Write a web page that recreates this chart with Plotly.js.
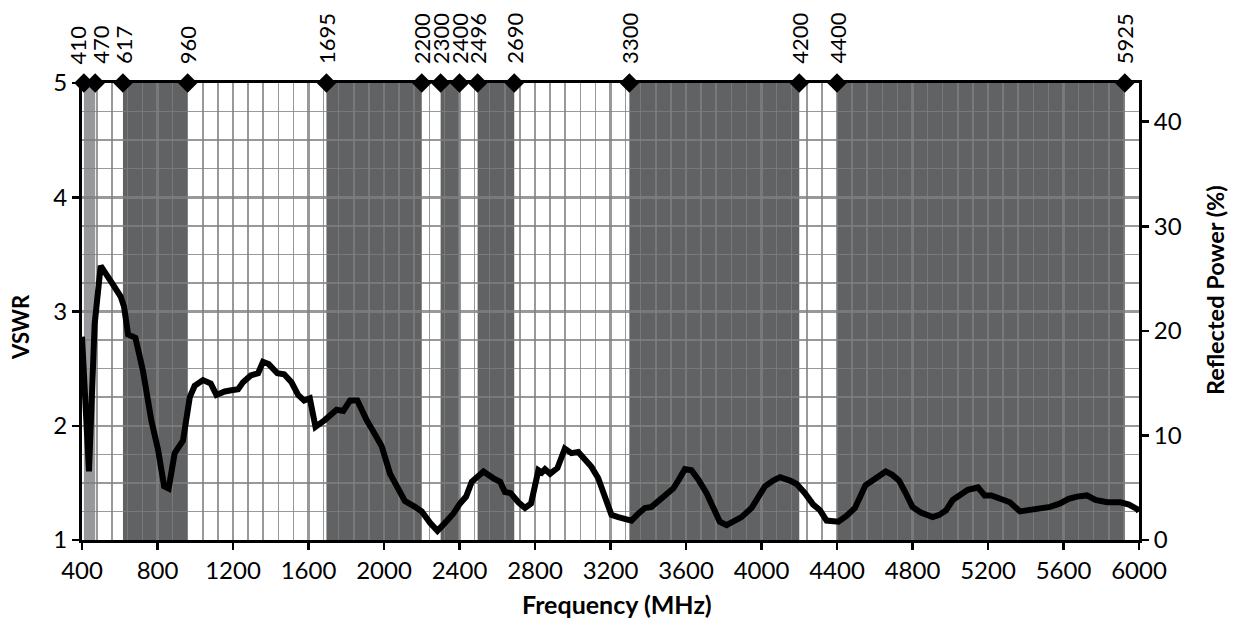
<!DOCTYPE html>
<html>
<head>
<meta charset="utf-8">
<script src="https://cdn.plot.ly/plotly-3.0.1.min.js"></script>
<style>
  html, body { margin: 0; padding: 0; background: #ffffff; }
  #chart { width: 1234px; height: 619px; }
</style>
</head>
<body>
<div id="chart"></div>
<script>
// Measured VSWR across the band (MHz)
const freqMHz = [
  400, 437, 467, 499, 555, 605, 623, 644, 683, 723, 767, 803, 835, 859, 891, 935,
  971, 997, 1041, 1082, 1112, 1156, 1192, 1227, 1253, 1294, 1333, 1359, 1389, 1435,
  1471, 1510, 1545, 1577, 1607, 1637, 1686, 1749, 1784, 1820, 1859, 1908, 1961, 1988,
  2032, 2067, 2111, 2164, 2200, 2244, 2283, 2323, 2367, 2403, 2435, 2465, 2527, 2580,
  2615, 2641, 2671, 2712, 2747, 2779, 2800, 2818, 2836, 2853, 2880, 2919, 2958, 2993,
  3029, 3064, 3099, 3135, 3170, 3205, 3241, 3276, 3311, 3347, 3382, 3417, 3453, 3488,
  3532, 3559, 3594, 3629, 3665, 3709, 3744, 3779, 3815, 3850, 3894, 3947, 3983, 4018,
  4062, 4098, 4151, 4186, 4230, 4274, 4310, 4345, 4407, 4450, 4495, 4525, 4551, 4596,
  4631, 4658, 4693, 4729, 4761, 4800, 4844, 4907, 4942, 4978, 5013, 5058, 5093, 5147,
  5182, 5218, 5262, 5316, 5369, 5413, 5476, 5529, 5582, 5627, 5671, 5724, 5769, 5831,
  5902, 5947, 5991, 6000
];
const vswr = [
  2.78, 1.60, 2.89, 3.40, 3.26, 3.13, 3.04, 2.80, 2.77, 2.48, 2.05, 1.79, 1.47, 1.45, 1.76, 1.87,
  2.25, 2.35, 2.40, 2.37, 2.27, 2.30, 2.31, 2.32, 2.38, 2.44, 2.46, 2.56, 2.54, 2.46,
  2.45, 2.38, 2.27, 2.22, 2.24, 1.99, 2.05, 2.14, 2.13, 2.22, 2.22, 2.05, 1.90, 1.82,
  1.58, 1.47, 1.34, 1.29, 1.25, 1.15, 1.08, 1.15, 1.23, 1.32, 1.38, 1.51, 1.60, 1.54,
  1.51, 1.42, 1.41, 1.33, 1.28, 1.32, 1.50, 1.61, 1.59, 1.62, 1.58, 1.63, 1.80, 1.76,
  1.77, 1.70, 1.64, 1.54, 1.38, 1.22, 1.20, 1.18, 1.17, 1.23, 1.28, 1.29, 1.34, 1.40,
  1.45, 1.52, 1.62, 1.61, 1.53, 1.41, 1.28, 1.16, 1.13, 1.16, 1.20, 1.28, 1.38, 1.47,
  1.52, 1.55, 1.52, 1.49, 1.41, 1.31, 1.26, 1.17, 1.16, 1.21, 1.28, 1.38, 1.48, 1.53,
  1.57, 1.60, 1.57, 1.52, 1.42, 1.29, 1.24, 1.20, 1.22, 1.26, 1.35, 1.40, 1.44, 1.46,
  1.39, 1.39, 1.36, 1.33, 1.25, 1.26, 1.27, 1.29, 1.32, 1.36, 1.38, 1.39, 1.35, 1.33,
  1.33, 1.31, 1.27, 1.25
];

// Band edges marked along the top of the chart
const edgeMHz = [410, 470, 617, 960, 1695, 2200, 2300, 2400, 2496, 2690, 3300, 4200, 4400, 5925];
// Shaded bands: [start, end]
const lightBands = [[410, 470]];
const darkBands = [[617, 960], [1695, 2200], [2300, 2400], [2496, 2690], [3300, 4200], [4400, 5925]];

// Right-hand scale: reflected power in percent, derived from VSWR
const reflectedPct = vswr.map(v => Math.pow((v - 1) / (v + 1), 2) * 100);

const FONT = 'Lato, "Open Sans", "DejaVu Sans", sans-serif';
const GRID = 'rgba(128,128,128,0.8)';
const TICK_SIZE = 24;

const bandShape = (b, color) => ({
  type: 'rect', layer: 'below', xref: 'x', yref: 'paper',
  x0: b[0], x1: b[1], y0: 0, y1: 1,
  fillcolor: color, line: { width: 0 }
});
const shapes = [
  ...lightBands.map(b => bandShape(b, '#97989b')),
  ...darkBands.map(b => bandShape(b, '#616264'))
];

// Nudge the two closely spaced edge labels apart so they don't collide
const labelNudge = { 410: -6, 470: 5 };
const annotations = edgeMHz.map(f => ({
  x: f, y: 5, xref: 'x', yref: 'y',
  text: String(f), textangle: -90, showarrow: false,
  xanchor: 'center', yanchor: 'bottom', yshift: 17, xshift: labelNudge[f] || 0,
  font: { family: FONT, size: 22, color: '#000' }
}));
const titleFont = size => ({ family: FONT, size: size, color: '#000', weight: 'bold' });
annotations.push(
  { xref: 'paper', yref: 'paper', x: -0.0587, y: 0.466, text: '<b>VSWR</b>', textangle: -90,
    showarrow: false, xanchor: 'center', yanchor: 'middle', font: titleFont(22) },
  { xref: 'paper', yref: 'paper', x: 1.0719, y: 0.547, text: '<b>Reflected Power (%)</b>', textangle: -90,
    showarrow: false, xanchor: 'center', yanchor: 'middle', font: titleFont(23.5) },
  { xref: 'paper', yref: 'paper', x: 0.506, y: -0.140, text: '<b>Frequency (MHz)</b>',
    showarrow: false, xanchor: 'center', yanchor: 'middle', font: titleFont(25) }
);

const traces = [
  {
    x: freqMHz, y: vswr, type: 'scatter', mode: 'lines',
    line: { color: '#000', width: 6 }, hoverinfo: 'x+y', showlegend: false
  },
  {
    x: edgeMHz, y: edgeMHz.map(() => 5), type: 'scatter', mode: 'markers',
    marker: { symbol: 'diamond', size: 15, color: '#000' },
    cliponaxis: false, hoverinfo: 'x', showlegend: false
  },
  {
    x: freqMHz, y: reflectedPct, yaxis: 'y2', type: 'scatter', mode: 'lines',
    line: { width: 0 }, opacity: 0, hoverinfo: 'skip', showlegend: false
  }
];

const layout = {
  width: 1234, height: 619,
  margin: { l: 82, r: 95, t: 83, b: 79 },
  paper_bgcolor: '#fff', plot_bgcolor: '#fff',
  font: { family: FONT, size: TICK_SIZE, color: '#000' },
  showlegend: false,
  xaxis: {
    range: [400, 6000], tick0: 400, dtick: 400,
    showgrid: true, gridcolor: GRID, gridwidth: 2.5,
    minor: { tick0: 400, dtick: 80, showgrid: true, gridcolor: GRID, gridwidth: 1.5, ticks: '' },
    showline: true, linecolor: '#000', linewidth: 3, mirror: true,
    ticks: 'outside', ticklen: 7, tickwidth: 2.5, tickcolor: '#000',
    zeroline: false, tickfont: { family: FONT, size: TICK_SIZE }
  },
  yaxis: {
    range: [1, 5], tick0: 1, dtick: 1,
    showgrid: true, gridcolor: GRID, gridwidth: 2.5,
    minor: { tick0: 1, dtick: 0.25, showgrid: true, gridcolor: GRID, gridwidth: 1.5, ticks: '' },
    showline: true, linecolor: '#000', linewidth: 3,
    ticks: 'outside', ticklen: 7, tickwidth: 2.5, tickcolor: '#000',
    zeroline: false, tickfont: { family: FONT, size: TICK_SIZE }
  },
  yaxis2: {
    overlaying: 'y', side: 'right', range: [0, 43.7], tick0: 0, dtick: 10,
    showgrid: false, zeroline: false,
    showline: true, linecolor: '#000', linewidth: 3,
    ticks: 'outside', ticklen: 7, tickwidth: 2.5, tickcolor: '#000',
    tickfont: { family: FONT, size: TICK_SIZE }
  },
  shapes: shapes,
  annotations: annotations
};

Plotly.newPlot('chart', traces, layout, { displayModeBar: false, staticPlot: true });
</script>
</body>
</html>
